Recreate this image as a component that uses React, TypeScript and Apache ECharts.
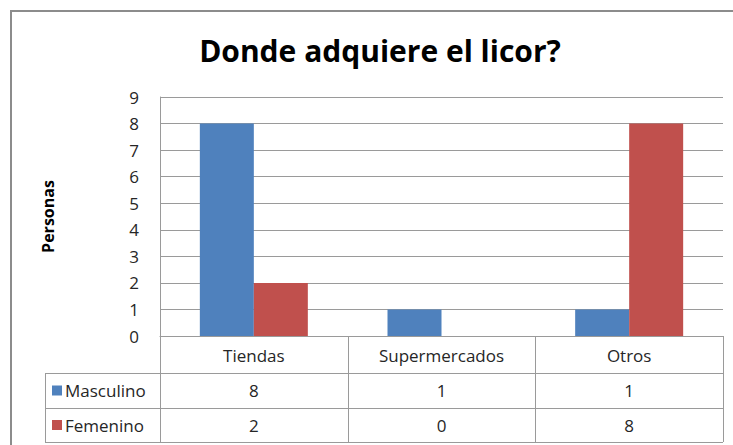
import React, { useEffect, useRef } from "react";
import * as echarts from "echarts";

const categories = ["Tiendas", "Supermercados", "Otros"];
const seriesNames = ["Masculino", "Femenino"];
const masculino = [8, 1, 1];
const femenino = [2, 0, 8];
const seriesColors = ["#4F81BD", "#C0504D"];
const yMin = 0;
const yMax = 9;
const yInterval = 1;

const W = 733;
const H = 445;
const GRID_L = 160;
const GRID_R = 723;
const GRID_T = 97;
const GRID_B = 336;
const ROW1 = 373;
const ROW2 = 408;
const ROW3 = 442;
const TABLE_L = 45;
const FONT = "'Open Sans', 'Noto Sans', sans-serif";
const TXT = "#262626";
const LINE = "#9a9a9a";

export default function App() {
  const ref = useRef<HTMLDivElement>(null);
  useEffect(() => {
    if (!ref.current) return;
    const chart = echarts.init(ref.current, null, { renderer: "svg" });
    const seriesData = [masculino, femenino];
    const colW = (GRID_R - GRID_L) / categories.length;
    const graphics: any[] = [];
    // outer chart border
    graphics.push({
      type: "rect",
      shape: { x: 11, y: 11, width: 800, height: 600 },
      style: { fill: "none", stroke: "#8c8c8c", lineWidth: 2 },
      silent: true,
    });
    const line = (x1: number, y1: number, x2: number, y2: number) =>
      graphics.push({
        type: "line",
        shape: { x1, y1, x2, y2 },
        style: { stroke: LINE, lineWidth: 1 },
        silent: true,
      });
    // vertical dividers of the data table
    for (let i = 0; i <= categories.length; i++) {
      const x = Math.round(GRID_L + colW * i) + 0.5;
      line(x, GRID_B, x, ROW3);
    }
    line(TABLE_L + 0.5, ROW1, TABLE_L + 0.5, ROW3);
    line(TABLE_L, ROW1 + 0.5, GRID_R, ROW1 + 0.5);
    line(TABLE_L, ROW2 + 0.5, GRID_R, ROW2 + 0.5);
    line(TABLE_L, ROW3 + 0.5, GRID_R, ROW3 + 0.5);
    const rowsY = [(ROW1 + ROW2) / 2, (ROW2 + ROW3) / 2];
    seriesNames.forEach((name, r) => {
      const cy = rowsY[r];
      graphics.push({
        type: "rect",
        shape: { x: 52, y: cy - 5, width: 10, height: 10 },
        style: { fill: seriesColors[r] },
        silent: true,
      });
      graphics.push({
        type: "text",
        x: 65,
        y: cy,
        style: {
          text: name,
          font: `17px ${FONT}`,
          fill: TXT,
          textVerticalAlign: "middle",
          textAlign: "left",
        },
        silent: true,
      });
      seriesData[r].forEach((v, c) => {
        graphics.push({
          type: "text",
          x: GRID_L + colW * (c + 0.5),
          y: cy,
          style: {
            text: String(v),
            font: `17px ${FONT}`,
            fill: TXT,
            textAlign: "center",
            textVerticalAlign: "middle",
          },
          silent: true,
        });
      });
    });

    chart.setOption({
      animation: false,
      backgroundColor: "#ffffff",
      title: {
        text: "Donde adquiere el licor?",
        left: 375,
        top: 30,
        textAlign: "center",
        textStyle: {
          fontFamily: FONT,
          fontSize: 30,
          fontWeight: "bold",
          color: "#000",
        },
      },
      grid: {
        left: GRID_L,
        right: W - GRID_R,
        top: GRID_T,
        bottom: H - GRID_B,
        containLabel: false,
      },
      xAxis: {
        type: "category",
        data: categories,
        axisLine: { show: true, lineStyle: { color: LINE } },
        axisTick: { show: false },
        axisLabel: {
          margin: 11,
          fontFamily: FONT,
          fontSize: 17,
          color: TXT,
          interval: 0,
        },
      },
      yAxis: {
        type: "value",
        min: yMin,
        max: yMax,
        interval: yInterval,
        name: "Personas",
        nameLocation: "middle",
        nameGap: 104,
        nameRotate: 90,
        nameTextStyle: {
          fontFamily: FONT,
          fontSize: 16,
          fontWeight: "bold",
          color: "#000",
        },
        axisLine: { show: true, lineStyle: { color: LINE } },
        axisTick: { show: false },
        axisLabel: {
          margin: 21,
          fontFamily: FONT,
          fontSize: 17,
          color: TXT,
        },
        splitLine: { show: true, lineStyle: { color: LINE } },
      },
      series: seriesNames.map((name, i) => ({
        type: "bar",
        name,
        data: seriesData[i],
        barWidth: 54,
        barGap: "0%",
        itemStyle: { color: seriesColors[i] },
      })),
      graphic: graphics,
    });
    return () => chart.dispose();
  }, []);
  return (
    <div
      ref={ref}
      style={{ position: "fixed", left: 0, top: 0, width: W, height: H, background: "#fff" }}
    />
  );
}
